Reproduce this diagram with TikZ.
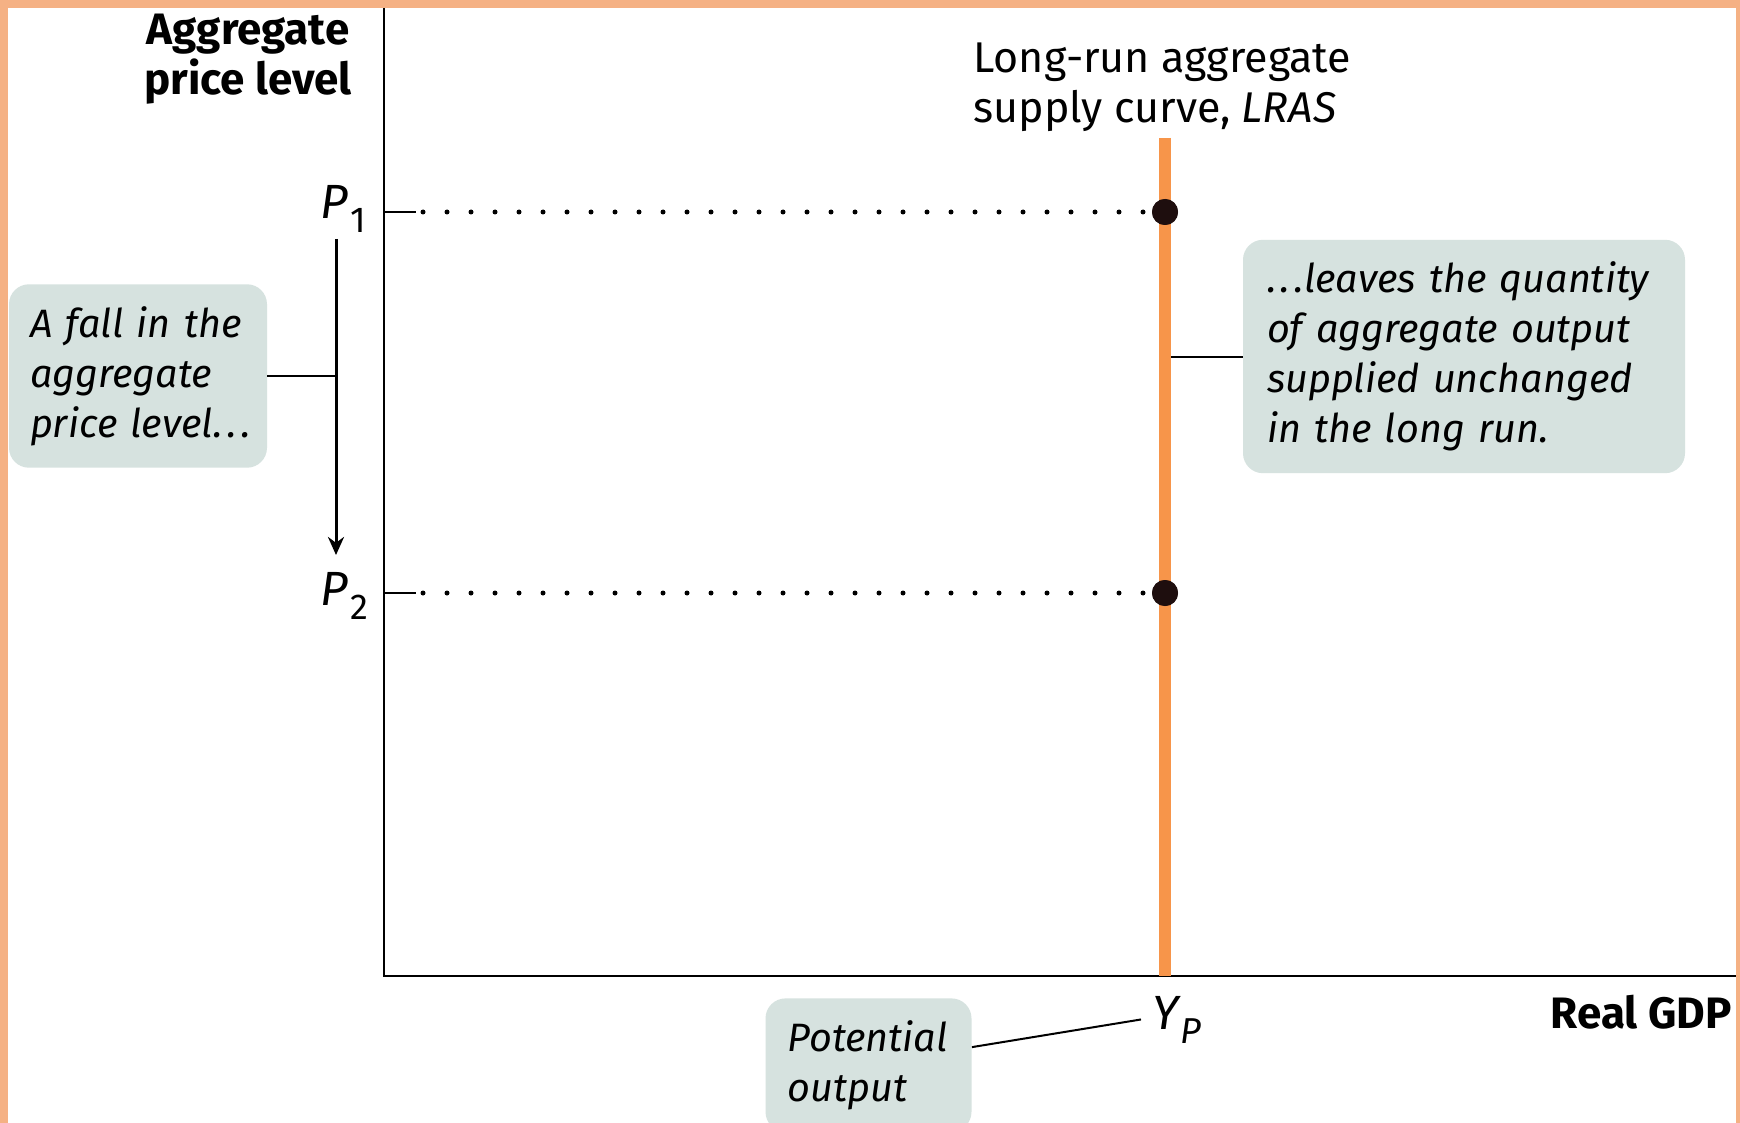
\documentclass[tikz,border=0pt]{standalone}
\usepackage{fontspec}
\setmainfont{Fira Sans}
\usetikzlibrary{arrows.meta}
\definecolor{framecol}{HTML}{F5B184}
\definecolor{lrascol}{HTML}{F7954A}
\definecolor{notecol}{HTML}{D6E2DF}
\definecolor{dotcol}{HTML}{1E0E0E}
\newcommand{\axislab}[2]{{\itshape #1}\kern1pt\raisebox{-7pt}{\fontsize{18}{18}\selectfont #2}}
\newcommand{\dotgap}{.\kern2.2pt.\kern2.2pt.}
\begin{document}
\begin{tikzpicture}[x=0.5pt,y=-0.5pt,
  note/.style={fill=notecol,rounded corners=10pt,inner ysep=11pt,align=left,
    font=\fontsize{19.8}{25}\selectfont\itshape},
  lab/.style={inner sep=0pt,font=\fontsize{24}{25}\selectfont},
  title/.style={inner sep=0pt,font=\fontsize{22}{25}\selectfont\bfseries},
  axis/.style={line width=1.4pt},
  guide/.style={line width=2.5pt,dash pattern=on 0pt off 12pt,line cap=round},
  point/.style={circle,fill=dotcol,minimum size=13pt,inner sep=0pt}]
\useasboundingbox (0,0) rectangle (1740,1123);
\clip (0,0) rectangle (1740,1123);
\fill[framecol] (0,0) rectangle (1740,1123);
\fill[white] (8,8) rectangle (1736,1130);
% axes
\coordinate (origin) at (384,976);
\draw[axis] (384,8) -- (origin) -- (1736,976);
\node[title,anchor=north,align=center] (ytitle) at (248,14) {Aggregate\\price level};
\node[title,anchor=base east] (xtitle) at (1732,1028) {Real GDP};
% price levels
\node[lab,anchor=base west] (p1) at (320,219) {\axislab{P}{1}};
\node[lab,anchor=base west] (p2) at (320,605) {\axislab{P}{2}};
\coordinate (p1tick) at (384,212);
\coordinate (p2tick) at (384,593);
\coordinate (fallstart) at (336,239);
\coordinate (fallend) at (336,555);
\draw[line width=1.5pt,-{Stealth[length=9pt,width=8pt]}] (fallstart) -- (fallend);
% notes
\node[note,minimum width=129pt,minimum height=90pt,inner xsep=10.5pt,text width=108pt] (fallnote) at (138,376)
  {\mbox{A fall in the}\\\mbox{aggregate}\\\mbox{price level\dotgap}};
\node[note,minimum width=221pt,minimum height=116.5pt,inner xsep=12pt,text width=197pt] (leavesnote) at (1464,356.5)
  {\mbox{\dotgap leaves the quantity}\\\mbox{of aggregate output}\\\mbox{supplied unchanged}\\\mbox{in the long run.}};
\node[note,anchor=north,inner xsep=11pt,text width=81pt] (potnote) at (868.5,998)
  {\mbox{Potential}\\\mbox{output}};
\node[lab,anchor=base west] (yp) at (1152,1029) {\axislab{Y}{\itshape P}};
\node[inner sep=0pt,anchor=north west,align=left,font=\fontsize{21.5}{25}\selectfont] (lrasname) at (973,42)
  {Long-run aggregate\\supply curve, \textit{LRAS}};
% connectors
\draw[line width=1pt] (fallnote.east) -- (fallnote.east -| fallstart);
\draw[line width=1pt] (leavesnote.west) -- ++(-80,0);
\draw[line width=1pt] ([yshift=9pt]potnote.east) -- ([xshift=-5.5pt]yp.west);
% long-run supply
\coordinate (lrastop) at (1165,138);
\draw[lrascol,line width=6pt] (lrastop) -- (lrastop |- origin);
% guides and points
\node[point] (a) at (1165,212) {};
\node[point] (b) at (1165,593) {};
\draw[axis] (p1tick) -- ++(32,0);
\draw[axis] (p2tick) -- ++(32,0);
\draw[guide] (423,212) -- (a);
\draw[guide] (423,593) -- (b);
\node[point] at (a) {};
\node[point] at (b) {};
\end{tikzpicture}
\end{document}
